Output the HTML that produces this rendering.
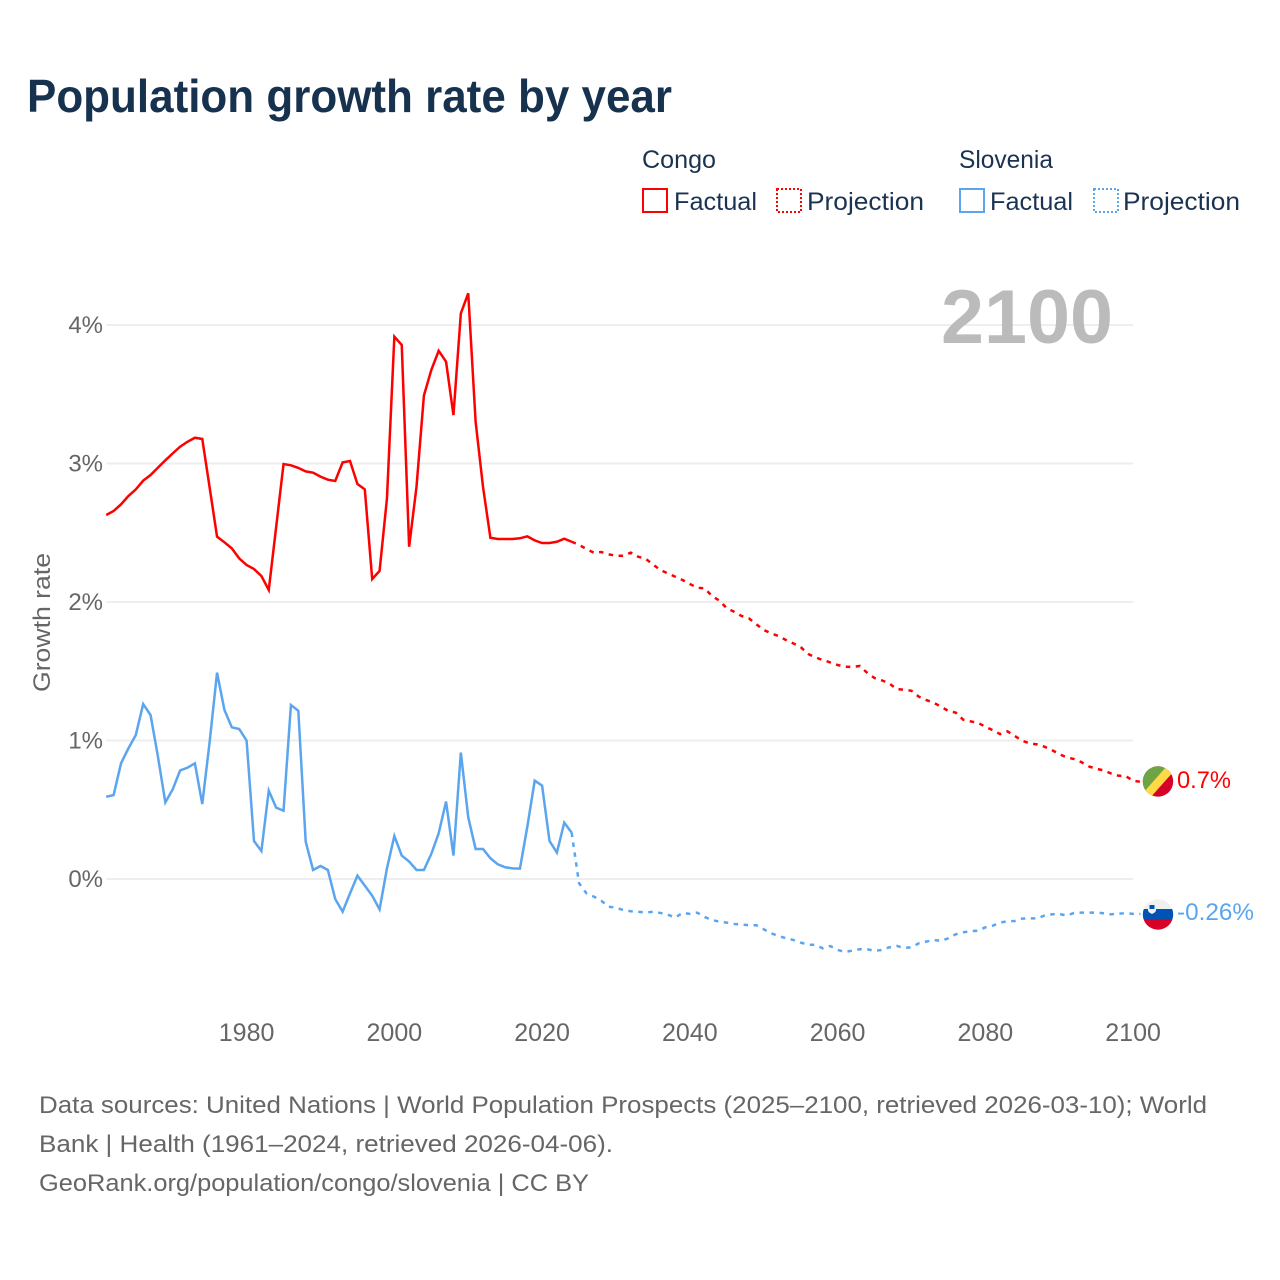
<!DOCTYPE html>
<html lang="en">
<head>
<meta charset="utf-8">
<title>Population growth rate by year</title>
<style>
html,body{margin:0;padding:0;background:#fff;width:1280px;height:1280px;overflow:hidden}
svg{display:block}
text{font-family:"Liberation Sans",sans-serif}
</style>
</head>
<body>
<svg id="chart" xmlns="http://www.w3.org/2000/svg" width="1280" height="1280" viewBox="0 0 1280 1280">
  <rect x="0" y="0" width="1280" height="1280" fill="#ffffff"/>
  <text x="27" y="112" font-size="46" font-weight="700" fill="#17324f" textLength="645" lengthAdjust="spacingAndGlyphs">Population growth rate by year</text>

  <g font-size="25" fill="#1b3352">
    <text x="642" y="168" textLength="74" lengthAdjust="spacingAndGlyphs">Congo</text>
    <rect x="643" y="189" width="24" height="23" fill="none" stroke="#ff0000" stroke-width="2"/>
    <text x="674" y="210" textLength="83" lengthAdjust="spacingAndGlyphs">Factual</text>
    <rect x="777" y="189" width="24" height="23" fill="none" stroke="#ff0000" stroke-width="2" stroke-dasharray="2 2"/>
    <text x="807" y="210" textLength="117" lengthAdjust="spacingAndGlyphs">Projection</text>
    <text x="959" y="168" textLength="94" lengthAdjust="spacingAndGlyphs">Slovenia</text>
    <rect x="960" y="189" width="24" height="23" fill="none" stroke="#5ba5ef" stroke-width="2"/>
    <text x="990" y="210" textLength="83" lengthAdjust="spacingAndGlyphs">Factual</text>
    <rect x="1094" y="189" width="24" height="23" fill="none" stroke="#5ba5ef" stroke-width="2" stroke-dasharray="2 2"/>
    <text x="1123" y="210" textLength="117" lengthAdjust="spacingAndGlyphs">Projection</text>
  </g>

  <g id="grid"></g>
  <g id="y-ticks"></g>
  <g id="x-ticks"></g>
  <text transform="translate(50 622.500) rotate(-90)" text-anchor="middle" font-size="24" fill="#666666" textLength="139" lengthAdjust="spacingAndGlyphs">Growth rate</text>
  <text x="941" y="343" font-size="76" font-weight="700" fill="#bbbbbb" textLength="172" lengthAdjust="spacingAndGlyphs">2100</text>
  <g id="series"></g>

  <defs>
    <clipPath id="flag-clip-congo"><circle cx="1158" cy="781.500" r="15.200"/></clipPath>
    <clipPath id="flag-clip-slovenia"><circle cx="1158" cy="914.500" r="15.200"/></clipPath>
  </defs>
  <g clip-path="url(#flag-clip-congo)">
    <rect x="1142" y="766" width="32" height="32" fill="#d80027"/>
    <polygon points="1142,766 1174,766 1142,798" fill="#6da544"/>
    <polygon points="1167,766 1174,771 1150,798 1143,793" fill="#ffda44"/>
  </g>
  <text x="1177" y="788" font-size="24.500" fill="#ff0000" textLength="54" lengthAdjust="spacingAndGlyphs">0.7%</text>
  <g clip-path="url(#flag-clip-slovenia)">
    <rect x="1142" y="899" width="32" height="10" fill="#f0f0f0"/>
    <rect x="1142" y="909" width="32" height="11" fill="#0052b4"/>
    <rect x="1142" y="920" width="32" height="11" fill="#d80027"/>
    <path d="M1148 905h8v5c0 2-2 3-4 4c-2-1-4-2-4-4z" fill="#f0f0f0"/>
    <rect x="1149.500" y="905" width="5" height="4" fill="#0052b4"/>
  </g>
  <text x="1177" y="920" font-size="24.500" fill="#5ba5ef" textLength="77" lengthAdjust="spacingAndGlyphs">-0.26%</text>

  <g font-size="24.500" fill="#666666">
    <text x="39" y="1113" textLength="1168" lengthAdjust="spacingAndGlyphs">Data sources: United Nations | World Population Prospects (2025–2100, retrieved 2026-03-10); World</text>
    <text x="39" y="1152" textLength="574" lengthAdjust="spacingAndGlyphs">Bank | Health (1961–2024, retrieved 2026-04-06).</text>
    <text x="39" y="1191" textLength="550" lengthAdjust="spacingAndGlyphs">GeoRank.org/population/congo/slovenia | CC BY</text>
  </g>
</svg>
<script>
const xTickYears = [1980, 2000, 2020, 2040, 2060, 2080, 2100];
const yTickValues = [0, 1, 2, 3, 4];
const factualStartYear = 1961;
const projectionStartYear = 2024;
const congoFactual = [2.628,2.657,2.705,2.765,2.813,2.876,2.917,2.970,3.023,3.073,3.121,3.157,3.186,3.177,2.825,2.472,2.431,2.387,2.315,2.267,2.238,2.188,2.087,2.541,2.996,2.987,2.968,2.943,2.934,2.905,2.883,2.874,3.008,3.018,2.852,2.813,2.166,2.224,2.748,3.916,3.856,2.399,2.832,3.490,3.675,3.814,3.735,3.350,4.084,4.229,3.302,2.832,2.464,2.455,2.455,2.455,2.460,2.474,2.445,2.426,2.426,2.435,2.457,2.435];
const congoProjection = [2.435,2.412,2.383,2.356,2.361,2.344,2.334,2.334,2.356,2.327,2.313,2.272,2.231,2.207,2.183,2.159,2.130,2.103,2.099,2.043,2.010,1.954,1.930,1.899,1.882,1.839,1.798,1.774,1.754,1.726,1.701,1.675,1.625,1.600,1.581,1.564,1.545,1.533,1.531,1.538,1.489,1.451,1.434,1.412,1.371,1.367,1.359,1.316,1.292,1.273,1.244,1.213,1.201,1.150,1.138,1.128,1.099,1.075,1.046,1.066,1.032,0.998,0.979,0.972,0.955,0.931,0.902,0.878,0.866,0.844,0.813,0.796,0.784,0.762,0.746,0.743,0.709,0.702];
const sloveniaFactual = [0.594,0.606,0.835,0.943,1.039,1.263,1.184,0.883,0.553,0.647,0.784,0.804,0.835,0.541,0.991,1.490,1.220,1.095,1.083,0.999,0.274,0.202,0.638,0.515,0.493,1.256,1.215,0.269,0.065,0.094,0.065,-0.145,-0.236,-0.104,0.024,-0.048,-0.120,-0.219,0.077,0.311,0.169,0.126,0.065,0.065,0.181,0.330,0.559,0.169,0.913,0.446,0.217,0.217,0.150,0.106,0.085,0.077,0.075,0.378,0.710,0.674,0.275,0.191,0.407,0.335];
const sloveniaProjection = [0.335,-0.031,-0.103,-0.127,-0.156,-0.200,-0.207,-0.224,-0.233,-0.236,-0.243,-0.236,-0.245,-0.257,-0.279,-0.245,-0.252,-0.243,-0.274,-0.296,-0.308,-0.315,-0.325,-0.329,-0.334,-0.334,-0.363,-0.392,-0.411,-0.428,-0.440,-0.459,-0.474,-0.476,-0.500,-0.484,-0.512,-0.527,-0.517,-0.507,-0.507,-0.519,-0.512,-0.493,-0.483,-0.498,-0.493,-0.464,-0.452,-0.440,-0.447,-0.428,-0.399,-0.385,-0.377,-0.373,-0.349,-0.337,-0.315,-0.305,-0.303,-0.286,-0.284,-0.284,-0.264,-0.255,-0.252,-0.264,-0.245,-0.243,-0.243,-0.243,-0.247,-0.255,-0.250,-0.247,-0.252,-0.252];

const NS = 'http://www.w3.org/2000/svg';
const xScale = function (year) { return 246.6 + (year - 1980) * 7.3875; };
const yScale = function (value) { return 879 - value * 138.5; };

const gridLayer = document.getElementById('grid');
const yTickLayer = document.getElementById('y-ticks');
const xTickLayer = document.getElementById('x-ticks');
const seriesLayer = document.getElementById('series');

yTickValues.forEach(function (v) {
  const line = document.createElementNS(NS, 'line');
  
  
  line.setAttribute('x1', xScale(1961));
  line.setAttribute('x2', xScale(2100));
  line.setAttribute('y1', yScale(v));
  line.setAttribute('y2', yScale(v));
  line.setAttribute('stroke', '#eeeeee');
  line.setAttribute('stroke-width', '2');
  gridLayer.appendChild(line);

  const label = document.createElementNS(NS, 'text');
  
  
  label.setAttribute('x', 103);
  label.setAttribute('y', yScale(v) + 8);
  label.setAttribute('text-anchor', 'end');
  label.setAttribute('font-size', '24');
  label.setAttribute('fill', '#666666');
  label.textContent = v + '%';
  yTickLayer.appendChild(label);
});

xTickYears.forEach(function (yr) {
  const label = document.createElementNS(NS, 'text');
  
  
  label.setAttribute('x', xScale(yr));
  label.setAttribute('y', 1041);
  label.setAttribute('text-anchor', 'middle');
  label.setAttribute('font-size', '25');
  label.setAttribute('fill', '#666666');
  label.textContent = yr;
  xTickLayer.appendChild(label);
});

function seriesPath(values, startYear) {
  return values.map(function (v, i) {
    return (i ? 'L' : 'M') + xScale(startYear + i).toFixed(2) + ' ' + yScale(v).toFixed(2);
  }).join(' ');
}

function addSeries(name, values, startYear, color, dashed) {
  const path = document.createElementNS(NS, 'path');
  
  
  path.setAttribute('d', seriesPath(values, startYear));
  path.setAttribute('fill', 'none');
  path.setAttribute('stroke', color);
  path.setAttribute('stroke-width', '2.500');
  path.setAttribute('stroke-linejoin', 'miter');
  if (dashed) {
    path.setAttribute('stroke-dasharray', '4.500 5.500');
  }
  seriesLayer.appendChild(path);
}

addSeries('slovenia-factual-line', sloveniaFactual, factualStartYear, '#5ba5ef', false);
addSeries('slovenia-projection-line', sloveniaProjection, projectionStartYear, '#5ba5ef', true);
addSeries('congo-factual-line', congoFactual, factualStartYear, '#ff0000', false);
addSeries('congo-projection-line', congoProjection, projectionStartYear, '#ff0000', true);
</script>
</body>
</html>
